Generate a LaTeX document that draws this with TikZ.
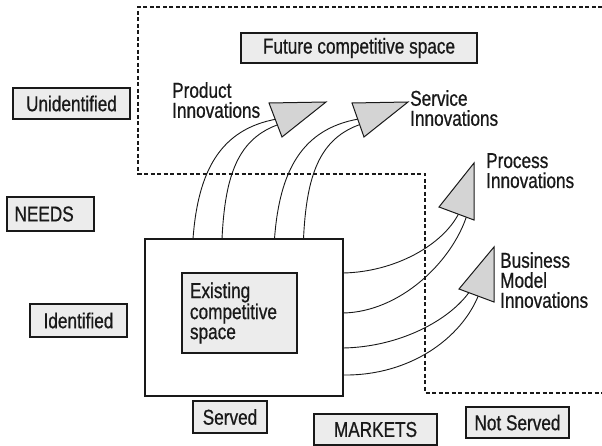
\documentclass[tikz,border=0pt]{standalone}
\usepackage{fontspec}
\setmainfont{Liberation Sans}[FakeStretch=0.8,FakeBold=0.7]
\definecolor{boxfill}{RGB}{236,236,236}
\definecolor{headfill}{RGB}{212,212,212}
\definecolor{ink}{RGB}{25,25,25}
\tikzset{
  box/.style={draw=ink, fill=boxfill, line width=1.1pt, inner sep=0pt},
  lbl/.style={align=left, inner sep=0pt, anchor=north west, text=ink},
  band/.style={draw=ink, line width=0.9pt},
  head/.style={draw=ink, fill=headfill, line width=1pt, line join=miter},
  zone/.style={draw=ink, line width=1.3pt, dash pattern=on 4pt off 2.5pt},
}
\begin{document}
\begin{tikzpicture}[x=1pt,y=-1pt,font=\fontsize{21.5}{20}\selectfont]
\useasboundingbox (0,0) rectangle (602,446);
% zone outline
\draw[zone] (602,7) -- (138,7) -- (138,174) -- (425,174) -- (425,393) -- (602,393);

% boxes
\node[box, text=ink, minimum width=236pt, minimum height=30pt] (fut) at (359,48) {Future competitive space};
\node[box, text=ink, minimum width=117pt, minimum height=31pt] (unid) at (71.5,103.5) {Unidentified};
\node[box, text=ink, minimum height=34pt, text width=72pt, inner xsep=7.5pt, align=left] (needs) at (50.5,214) {NEEDS};
\node[box, text=ink, minimum width=97pt, minimum height=33pt] (ident) at (78.5,320.5) {Identified};
\node[draw=ink, line width=2pt, minimum width=198pt, minimum height=157pt, inner sep=0pt] (mk) at (244,317.5) {};
\node[box, text=ink, minimum height=80pt, text width=99pt, inner xsep=8pt, align=left] (ex) at (239.5,313) {Existing\\competitive\\space};
\node[box, text=ink, minimum width=74pt, minimum height=32pt] (srv) at (230,417) {Served};
\node[box, text=ink, minimum width=123pt, minimum height=31pt] (mkts) at (375.5,429.5) {MARKETS};
\node[box, text=ink, minimum width=103pt, minimum height=31pt] (nsrv) at (517.5,422.5) {Not Served};

% labels
\node[lbl] (prod) at (172,82) {Product\\Innovations};
\node[lbl] (serv) at (410,90) {Service\\Innovations};
\node[lbl] (proc) at (486,153) {Process\\Innovations};
\node[lbl] (bus) at (500,252) {Business\\Model\\Innovations};

% start points on the market box
\coordinate (pa1) at (193,239);
\coordinate (pa2) at (222,239);
\coordinate (sa1) at (274.5,239);
\coordinate (sa2) at (303.5,239);
\coordinate (ra1) at (343,273);
\coordinate (ra2) at (343,313);
\coordinate (ba1) at (343,348);
\coordinate (ba2) at (343,375);
% end points inside the arrow heads
\coordinate (pe1) at (277,119);
\coordinate (pe2) at (280,124);
\coordinate (se1) at (358.5,119);
\coordinate (se2) at (361.5,124);
\coordinate (re1) at (459,213);
\coordinate (re2) at (467,215);
\coordinate (be1) at (470,291);
\coordinate (be2) at (479,294);
% arrow head corners
\coordinate (ph1) at (269,103); \coordinate (ph2) at (326,102); \coordinate (ph3) at (282,137);
\coordinate (sh1) at (352,103); \coordinate (sh2) at (408,102); \coordinate (sh3) at (364,137);
\coordinate (rh1) at (439,207); \coordinate (rh2) at (474,163); \coordinate (rh3) at (474,220);
\coordinate (bh1) at (459,289); \coordinate (bh2) at (494,247); \coordinate (bh3) at (494,302);

% curved bands
\draw[band] (pa1) .. controls (198,170) and (221,129) .. (pe1);
\draw[band] (pa2) .. controls (225,175) and (238,138) .. (pe2);
\draw[band] (sa1) .. controls (279.5,170) and (302.5,129) .. (se1);
\draw[band] (sa2) .. controls (306.5,175) and (319.5,138) .. (se2);
\draw[band] (ra1) .. controls (395,272) and (443,245) .. (re1);
\draw[band] (ra2) .. controls (400,312) and (452,262) .. (re2);
\draw[band] (ba1) .. controls (400,347) and (450,320) .. (be1);
\draw[band] (ba2) .. controls (410,376) and (462,338) .. (be2);

% heads
\draw[head] (ph1) -- (ph2) -- (ph3) -- cycle;
\draw[head] (sh1) -- (sh2) -- (sh3) -- cycle;
\draw[head] (rh1) -- (rh2) -- (rh3) -- cycle;
\draw[head] (bh1) -- (bh2) -- (bh3) -- cycle;
\end{tikzpicture}
\end{document}
